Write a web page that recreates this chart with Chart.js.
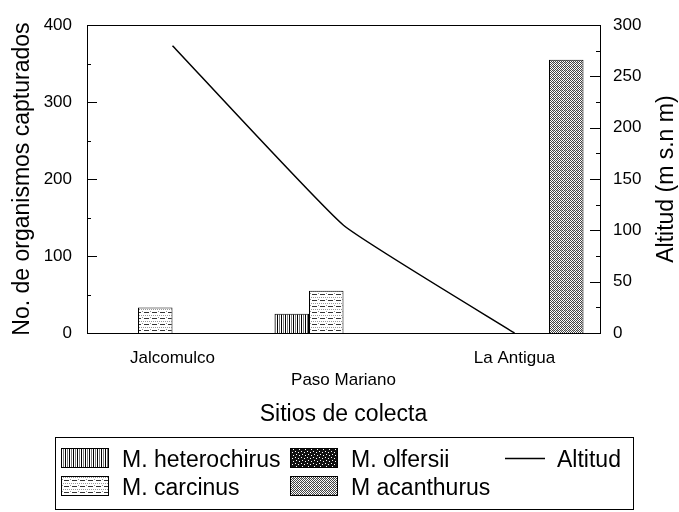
<!doctype html>
<html lang="es">
<head>
<meta charset="UTF-8">
<title>Organismos capturados por sitio</title>
<script src="https://cdn.jsdelivr.net/npm/chart.js@4.4.1/dist/chart.umd.min.js"></script>
<style>
	body { margin:0; background:#fff; }
	#holder { width:679px; height:512px; }
</style>
</head>
<body>
<div id="holder"><canvas id="grafica" width="679" height="512"></canvas></div>
<script>
// datos
var sitios = ['Jalcomulco', ['', 'Paso Mariano'], 'La Antigua'];
var heterochirus = [0, 25, 0];
var carcinus = [33, 55, 0];
var olfersii = [0, 0, 0];
var acanthurus = [0, 0, 355];
var altitud = [280, 105, 0];
var ejeIzq = [0, 400, 100];   // min, max, paso
var ejeDer = [0, 300, 50];

var fuente = "'Liberation Sans', Arial, sans-serif";
var canvas = document.getElementById('grafica');
var ctx = canvas.getContext('2d');

// tramas de las barras
function trama(w, h, pintar) {
	var t = document.createElement('canvas');
	t.width = w; t.height = h;
	var g = t.getContext('2d');
	g.fillStyle = '#fff';
	g.fillRect(0, 0, w, h);
	pintar(g);
	return ctx.createPattern(t, 'repeat');
}
var tHetero = trama(4, 1, function(g){
	g.fillStyle = '#000'; g.fillRect(1, 0, 1, 1);
	g.fillStyle = '#777'; g.fillRect(3, 0, 1, 1);
});
var tCarci = trama(8, 6, function(g){
	g.fillStyle = '#333'; g.fillRect(0, 0, 5, 1);
	g.fillStyle = '#999';
	for (var x = 0; x < 8; x += 2) g.fillRect(x + 1, 3, 1, 1);
	g.fillRect(6, 5, 1, 1);
});
var tOlfer = trama(6, 6, function(g){
	g.fillStyle = '#111'; g.fillRect(0, 0, 6, 6);
	g.fillStyle = '#fff';
	g.fillRect(1, 1, 1, 1); g.fillRect(4, 2, 1, 1); g.fillRect(2, 4, 1, 1); g.fillRect(5, 5, 1, 1);
});
var tAcan = trama(4, 4, function(g){
	g.fillStyle = '#444';
	for (var y = 0; y < 4; y++) for (var x = 0; x < 4; x++)
		if ((x + y) % 2 == 0) g.fillRect(x, y, 1, 1);
	g.fillStyle = '#bbb'; g.fillRect(1, 2, 1, 1);
});

// marco y marcas hacia adentro
var marco = {
	id: 'marco',
	afterDatasetsDraw: function(chart) {
		var a = chart.chartArea, c = chart.ctx;
		c.save();
		c.strokeStyle = '#000';
		c.lineWidth = 1;
		c.strokeRect(Math.round(a.left) + 0.5, Math.round(a.top) + 0.5, Math.round(a.right - a.left), Math.round(a.bottom - a.top));
		var yi = chart.scales.y, yd = chart.scales.y1;
		c.beginPath();
		for (var v = ejeIzq[0]; v <= ejeIzq[1]; v += ejeIzq[2] / 2) {
			var p = Math.round(yi.getPixelForValue(v)) + 0.5;
			var l = (v % ejeIzq[2] == 0) ? 10 : 4;
			c.moveTo(a.left, p); c.lineTo(a.left + l, p);
		}
		for (var v = ejeDer[0]; v <= ejeDer[1]; v += ejeDer[2] / 2) {
			var p = Math.round(yd.getPixelForValue(v)) + 0.5;
			var l = (v % ejeDer[2] == 0) ? 10 : 4;
			c.moveTo(a.right, p); c.lineTo(a.right - l, p);
		}
		c.stroke();
		// titulo derecho (de abajo hacia arriba)
		c.fillStyle = '#000';
		c.font = '23px ' + fuente;
		c.textAlign = 'center';
		c.textBaseline = 'middle';
		c.translate(667, (a.top + a.bottom) / 2);
		c.rotate(-Math.PI / 2);
		c.fillText('Altitud (m s.n m)', 0, 0);
		c.restore();
	}
};

// leyenda en recuadro, centrada bajo la grafica
var leyenda = {
	id: 'leyenda',
	afterDraw: function(chart) {
		var c = chart.ctx;
		var items = [
			[chart.data.datasets[0], 61, 467],
			[chart.data.datasets[2], 290, 467],
			[chart.data.datasets[4], 505, 467],
			[chart.data.datasets[1], 61, 495],
			[chart.data.datasets[3], 290, 495]
		];
		c.save();
		c.strokeStyle = '#000';
		c.lineWidth = 1;
		c.strokeRect(55.5, 437.5, 578, 72);
		c.font = '23px ' + fuente;
		c.textBaseline = 'alphabetic';
		c.textAlign = 'left';
		c.fillStyle = '#000';
		items.forEach(function(it) {
			var ds = it[0], x = it[1], y = it[2];
			if (ds.type == 'line') {
				c.beginPath();
				c.moveTo(x, y - 8.5); c.lineTo(x + 40, y - 8.5);
				c.lineWidth = 1.5;
				c.stroke();
				c.fillText(ds.label, x + 52, y);
			} else {
				c.fillStyle = ds.backgroundColor;
				c.fillRect(x, y - 19, 48, 20);
				c.lineWidth = 1;
				c.strokeRect(x + 0.5, y - 18.5, 47, 19);
				c.fillStyle = '#000';
				c.fillText(ds.label, x + 61, y);
			}
		});
		c.restore();
	}
};

function barra(nombre, datos, relleno) {
	return {
		type: 'bar', label: nombre, data: datos, yAxisID: 'y',
		backgroundColor: relleno, borderColor: '#000', borderWidth: 1,
		categoryPercentage: 0.807, barPercentage: 1
	};
}

var config = {
	data: {
		labels: sitios,
		datasets: [
			barra('M. heterochirus', heterochirus, tHetero),
			barra('M. carcinus', carcinus, tCarci),
			barra('M. olfersii', olfersii, tOlfer),
			barra('M acanthurus', acanthurus, tAcan),
			{
				type: 'line', label: 'Altitud', data: altitud, yAxisID: 'y1',
				borderColor: '#000', borderWidth: 1.5, pointRadius: 0, tension: 0.12, fill: false
			}
		]
	},
	options: {
		responsive: false,
		animation: false,
		layout: { padding: { top: 15, left: 0, right: 0, bottom: 0 } },
		plugins: { legend: { display: false }, tooltip: { enabled: false } },
		scales: {
			x: {
				grid: { display: false, drawTicks: false },
				border: { display: false },
				ticks: { color: '#000', font: { family: fuente, size: 17, lineHeight: 1.25 }, padding: 15, maxRotation: 0, autoSkip: false },
				title: { display: true, text: 'Sitios de colecta', color: '#000', font: { family: fuente, size: 23, lineHeight: 1.2 }, padding: { top: 0, bottom: 84 } },
				afterFit: function(s) { s.height = 179; }
			},
			y: {
				position: 'left', min: ejeIzq[0], max: ejeIzq[1],
				grid: { display: false, drawTicks: false },
				border: { display: false },
				ticks: { stepSize: ejeIzq[2], color: '#000', font: { family: fuente, size: 17 }, padding: 15 },
				title: { display: true, text: 'No. de organismos capturados', color: '#000', font: { family: fuente, size: 23, lineHeight: 1.2 }, padding: { top: 9, bottom: 0 } },
				afterFit: function(s) { s.width = 87; }
			},
			y1: {
				position: 'right', min: ejeDer[0], max: ejeDer[1],
				grid: { display: false, drawTicks: false },
				border: { display: false },
				ticks: { stepSize: ejeDer[2], color: '#000', font: { family: fuente, size: 17 }, padding: 13 },
				afterFit: function(s) { s.width = 79; }
			}
		}
	},
	plugins: [marco, leyenda]
};

window.onload = function() {
	window.grafica = new Chart(ctx, config);
};
</script>
</body>
</html>
